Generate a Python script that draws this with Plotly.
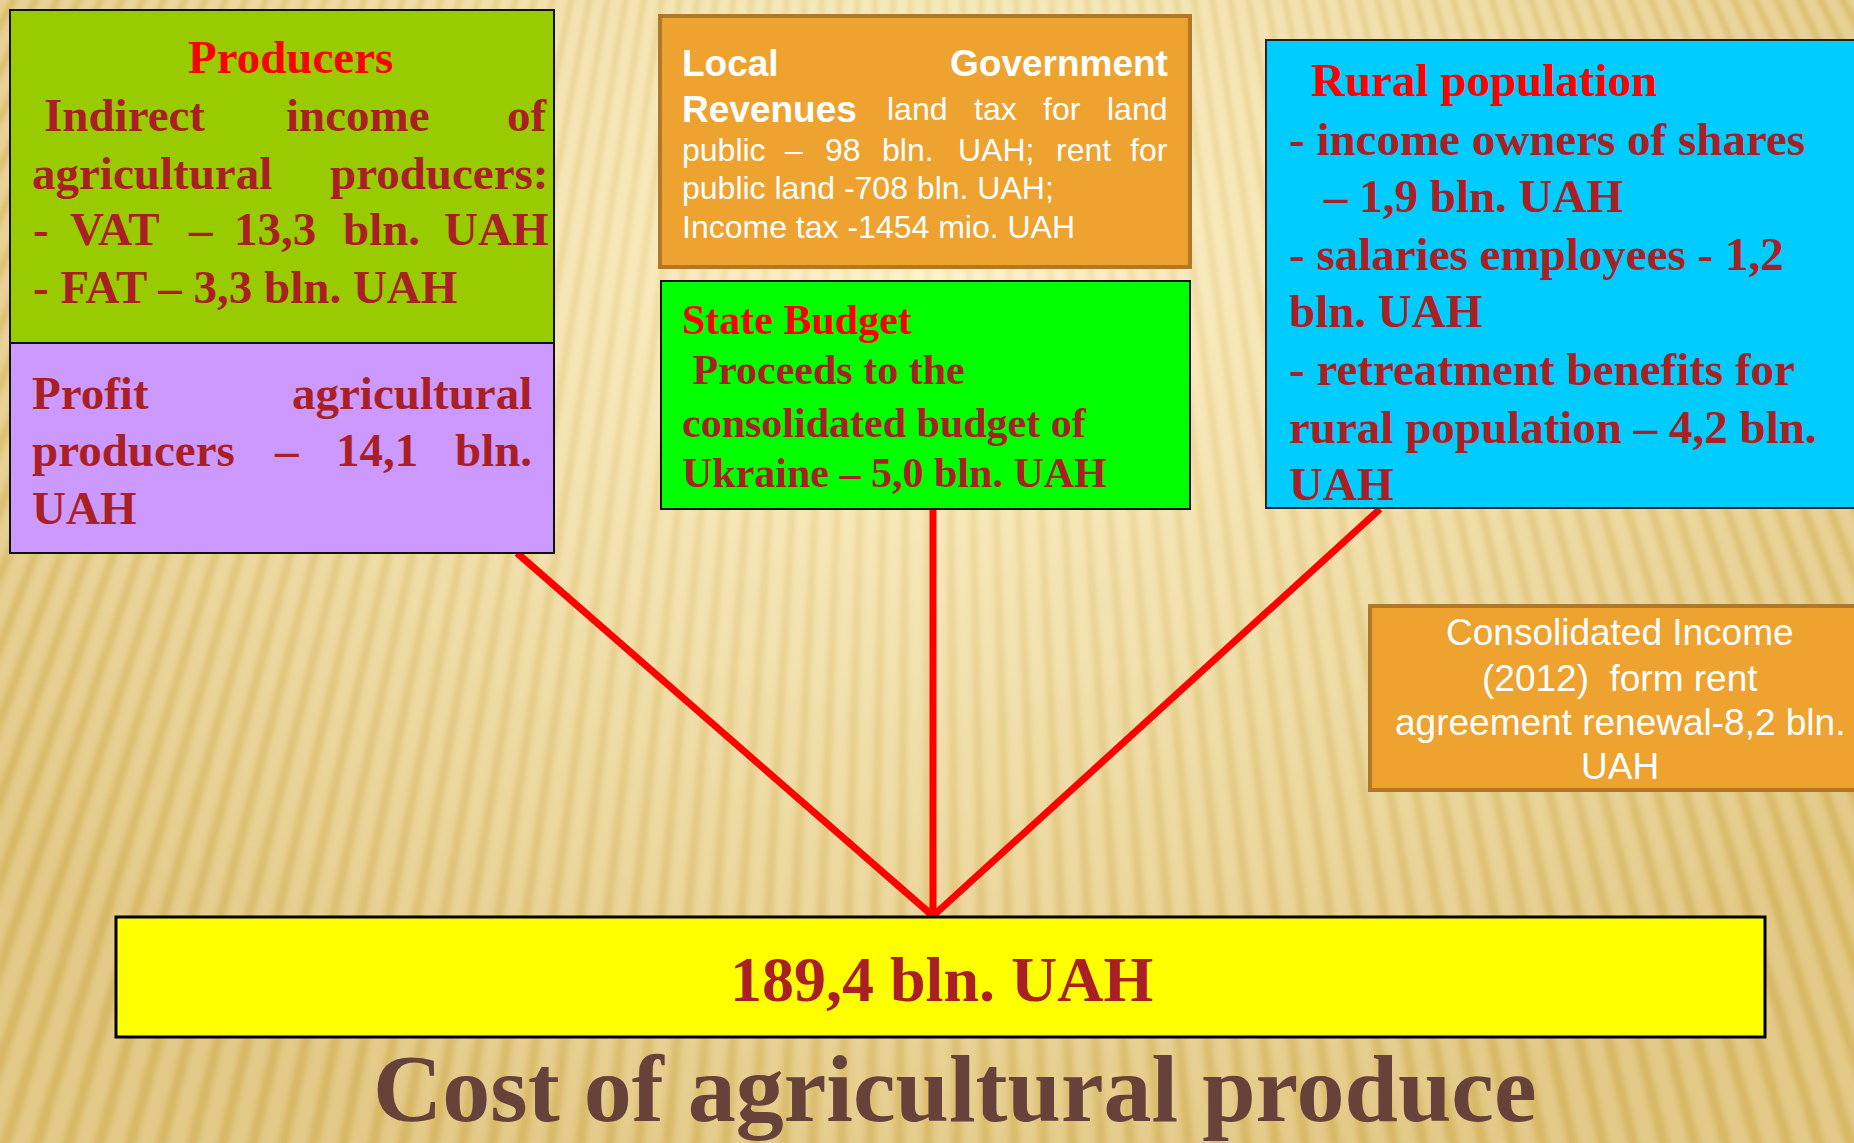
import base64
import struct
import zlib

import numpy as np
import plotly.graph_objects as go

W, H = 1854, 1143

# ---------------- content ----------------
TITLE = "Cost of agricultural produce"
TOTAL = "189,4 bln. UAH"

producers_lines = [
    ["Producers"],
    ["Indirect", "income", "of"],
    ["agricultural", "producers:"],
    ["-", "VAT", "–", "13,3", "bln.", "UAH"],
    ["- FAT – 3,3 bln. UAH"],
]
profit_lines = [
    ["Profit", "agricultural"],
    ["producers", "–", "14,1", "bln."],
    ["UAH"],
]
local_lines = [
    ["Local", "Government"],
    ["Revenues", "land", "tax", "for", "land"],
    ["public", "–", "98", "bln.", "UAH;", "rent", "for"],
    ["public land -708 bln. UAH;"],
    ["Income tax -1454 mio. UAH"],
]
local_bold = [[True, True], [True, False, False, False, False], [False] * 7, [False], [False]]
state_lines = [
    ["State Budget"],
    [" Proceeds to the"],
    ["consolidated budget of"],
    ["Ukraine – 5,0 bln. UAH"],
]
rural_lines = [
    ["Rural population"],
    ["- income owners of shares"],
    ["– 1,9 bln. UAH"],
    ["- salaries employees - 1,2"],
    ["bln. UAH"],
    ["- retreatment benefits for"],
    ["rural population – 4,2 bln."],
    ["UAH"],
]
consolidated_lines = [
    "Consolidated Income",
    "(2012)\u00a0 form rent",
    "agreement renewal-8,2 bln.",
    "UAH",
]

# ---------------- layout (pixel positions) ----------------
SERIF = "Liberation Serif, Times New Roman, serif"
SANS = "Liberation Sans, Arial, sans-serif"
DARKRED = "#A91F24"
RED = "#FF0000"

producers_pos = [
    (57, [(290, "center")]),
    (115, [(42, "left"), (358, "center"), (550, "right")]),
    (173, [(30, "left"), (550, "right")]),
    (229, [(31, "left"), (115, "center"), (200, "center"), (275, "center"), (381, "center"), (550, "right")]),
    (287, [(31, "left")]),
]
profit_pos = [
    (393, [(30, "left"), (534, "right")]),
    (450, [(30, "left"), (286, "center"), (377, "center"), (534, "right")]),
    (508, [(30, "left")]),
]
local_pos = [
    (63, [(680, "left"), (1170, "right")]),
    (109, [(680, "left"), (917, "center"), (995, "center"), (1062, "center"), (1170, "right")]),
    (150, [(680, "left"), (794, "center"), (843, "center"), (908, "center"), (996, "center"), (1083, "center"), (1170, "right")]),
    (188, [(680, "left")]),
    (227, [(680, "left")]),
]
state_pos = [(320, 680), (370, 680), (423, 680), (473, 680)]
rural_pos = [(80, 1309), (139, 1287), (196, 1321), (254, 1287), (311, 1287), (369, 1287), (427, 1287), (484, 1287)]
consolidated_pos = [(632, 1620), (678, 1620), (722, 1620), (766, 1620)]


# ---------------- background texture ----------------
def make_background(w=927, h=572):
    s = W / w
    ys, xs = np.mgrid[0:h, 0:w].astype(float)
    X = xs * s
    Y = ys * s
    d = np.sqrt(((X - 927) / 1150) ** 2 + ((Y - 260) / 950) ** 2)
    t = np.clip(d, 0, 1)[..., None]
    light = np.array([255, 244, 205], dtype=float)
    dark = np.array([228, 203, 138], dtype=float)
    base = light + (dark - light) * t
    theta = np.arctan2(X - 927, Y + 1800)
    phase = theta / 0.0098
    st = (0.5 + 0.5 * np.cos(2 * np.pi * phase)) ** 2
    amp = np.array([11, 18, 36], dtype=float)
    img = base - amp * st[..., None] * (0.55 + 0.45 * t)
    img = np.clip(img, 0, 255).astype(np.uint8)
    raw = b"".join(b"\x00" + img[r].tobytes() for r in range(h))

    def chunk(tag, data):
        c = struct.pack(">I", len(data)) + tag + data
        return c + struct.pack(">I", zlib.crc32(tag + data) & 0xFFFFFFFF)

    png = (b"\x89PNG\r\n\x1a\n"
           + chunk(b"IHDR", struct.pack(">IIBBBBB", w, h, 8, 2, 0, 0, 0))
           + chunk(b"IDAT", zlib.compress(raw, 9))
           + chunk(b"IEND", b""))
    return "data:image/png;base64," + base64.b64encode(png).decode()


annotations = []
shapes = []


def text(s, x, y, size, color, family, anchor="left", bold=True):
    annotations.append(dict(
        text=f"<b>{s}</b>" if bold else s, x=x, y=y, xref="x", yref="y",
        xanchor=anchor, yanchor="middle", showarrow=False,
        font=dict(family=family, size=size, color=color)))


def rect(x0, y0, x1, y1, fill, line, lw):
    shapes.append(dict(type="rect", xref="x", yref="y", x0=x0, y0=y0, x1=x1, y1=y1,
                       fillcolor=fill, line=dict(color=line, width=lw), layer="above"))


def seg(x0, y0, x1, y1):
    shapes.append(dict(type="line", xref="x", yref="y", x0=x0, y0=y0, x1=x1, y1=y1,
                       line=dict(color="#FF0000", width=7), layer="above"))


# connecting lines
seg(517, 553, 933, 916)
seg(933, 509, 933, 916)
seg(1380, 509, 933, 916)

# boxes
rect(10, 10, 554, 343, "#99CC00", "#111111", 2)
rect(10, 343, 554, 553, "#CC99FF", "#111111", 2)
rect(660, 16, 1190, 267, "#EEA331", "#B27827", 4)
rect(661, 281, 1190, 509, "#00FF00", "#111111", 2)
rect(1266, 40, 1870, 508, "#00CCFF", "#222222", 2)
rect(1370, 606, 1870, 790, "#EEA331", "#B27827", 4)
rect(116, 917, 1765, 1037, "#FFFF00", "#000000", 3)

# producers box
for i, (line, (y, places)) in enumerate(zip(producers_lines, producers_pos)):
    for word, (x, anc) in zip(line, places):
        text(word, x, y, 47, RED if i == 0 else DARKRED, SERIF, anc)
for line, (y, places) in zip(profit_lines, profit_pos):
    for word, (x, anc) in zip(line, places):
        text(word, x, y, 47, DARKRED, SERIF, anc)

# local government box
for line, bolds, (y, places) in zip(local_lines, local_bold, local_pos):
    for word, b, (x, anc) in zip(line, bolds, places):
        text(word, x, y, 37 if b else 32, "#FFFFFF", SANS, anc, bold=b)

# state budget box
for i, (line, (y, x)) in enumerate(zip(state_lines, state_pos)):
    text(line[0].replace(" ", "\u00a0", 1) if line[0].startswith(" ") else line[0],
         x, y, 42, RED if i == 0 else DARKRED, SERIF)

# rural population box
for i, (line, (y, x)) in enumerate(zip(rural_lines, rural_pos)):
    text(line[0], x, y, 47, RED if i == 0 else DARKRED, SERIF)

# consolidated income box
for line, (y, x) in zip(consolidated_lines, consolidated_pos):
    text(line, x, y, 37, "#FFFFFF", SANS, "center", bold=False)

# total and title
text(TOTAL, 941, 979, 64, DARKRED, SERIF, "center")
text(TITLE, 954, 1088, 96, "#66423A", SERIF, "center")

fig = go.Figure()
fig.update_layout(
    width=W, height=H, margin=dict(l=0, r=0, t=0, b=0),
    paper_bgcolor="#F6E3AC", plot_bgcolor="rgba(0,0,0,0)",
    xaxis=dict(range=[0, W], visible=False, fixedrange=True),
    yaxis=dict(range=[H, 0], visible=False, fixedrange=True),
    showlegend=False,
    shapes=shapes, annotations=annotations,
    images=[dict(source=make_background(), xref="paper", yref="paper", x=0, y=1,
                 sizex=1, sizey=1, sizing="stretch", xanchor="left", yanchor="top",
                 layer="below")],
)

fig.write_html("out.html", config={"displayModeBar": False},
               post_script="document.body.style.margin='0';document.body.style.overflow='hidden';")
